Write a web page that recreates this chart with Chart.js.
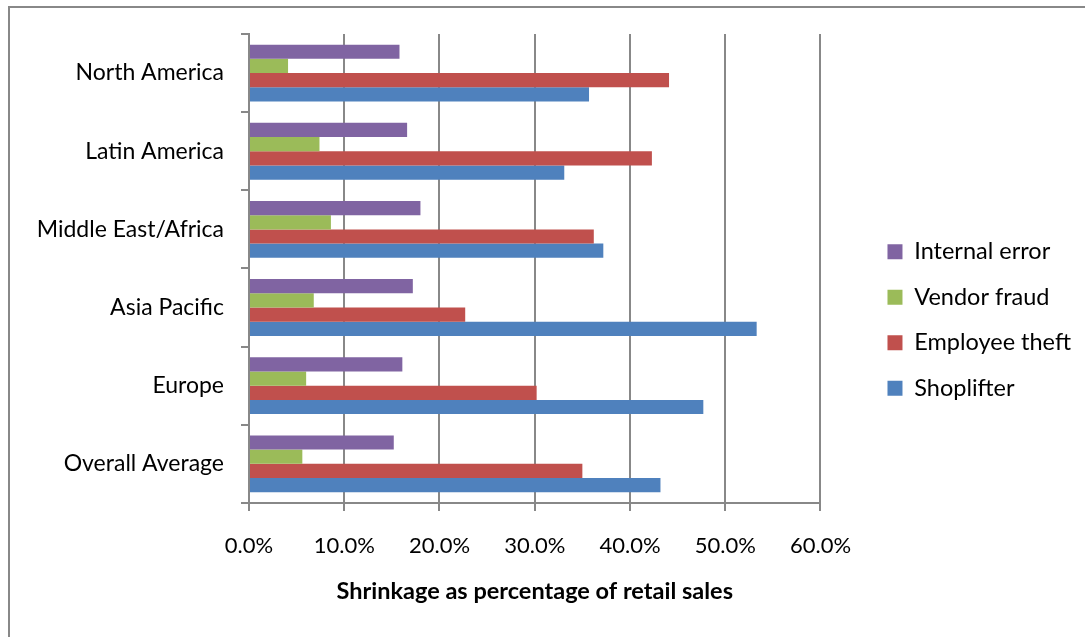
<!DOCTYPE html>
<html>
<head>
<meta charset="utf-8">
<script src="https://cdn.jsdelivr.net/npm/chart.js@4.4.1/dist/chart.umd.min.js"></script>
<style>
  html, body { margin: 0; padding: 0; background: #fff; overflow: hidden; }
  #wrap { position: relative; width: 1085px; height: 637px; }
  #frame {
    position: absolute; left: 8px; top: 6px; width: 1100px; height: 700px;
    border-left: 2px solid #888; border-top: 2px solid #888; pointer-events: none;
  }
  canvas { position: absolute; left: 0; top: 0; }
</style>
</head>
<body>
<div id="wrap">
  <canvas id="chart" width="1085" height="637"></canvas>
  <div id="frame"></div>
</div>
<script>
// Shrinkage by region, share of retail sales (%)
const regions = ['North America', 'Latin America', 'Middle East/Africa', 'Asia Pacific', 'Europe', 'Overall Average'];
const internalError = [15.8, 16.6, 18.0, 17.2, 16.1, 15.2];
const vendorFraud   = [4.1, 7.4, 8.6, 6.8, 6.0, 5.6];
const employeeTheft = [44.1, 42.3, 36.2, 22.7, 30.2, 35.0];
const shoplifter    = [35.7, 33.1, 37.2, 53.3, 47.7, 43.2];
const seriesNames   = ['Internal error', 'Vendor fraud', 'Employee theft', 'Shoplifter'];
const seriesColors  = ['#8064A2', '#9BBB59', '#C0504D', '#4F81BD'];
const axisTitle     = 'Shrinkage as percentage of retail sales';
const xMax = 60, xStep = 10;

const gridGray = '#888888';
const font = 'Lato';

const datasets = [internalError, vendorFraud, employeeTheft, shoplifter].map((vals, i) => ({
  label: seriesNames[i],
  data: vals,
  backgroundColor: seriesColors[i],
  borderWidth: 0,
  barPercentage: 1.0,
  categoryPercentage: 0.727
}));

new Chart(document.getElementById('chart'), {
  type: 'bar',
  data: { labels: regions, datasets },
  options: {
    indexAxis: 'y',
    responsive: false,
    animation: false,
    layout: { padding: { left: 37, top: 34, right: 4, bottom: 31 } },
    plugins: {
      tooltip: { enabled: false },
      legend: {
        position: 'right',
        maxWidth: 260,
        labels: {
          color: '#000',
          font: { family: font, size: 23.5 },
          boxWidth: 15,
          boxHeight: 15,
          padding: 22
        }
      }
    },
    scales: {
      x: {
        min: 0,
        max: xMax,
        ticks: {
          stepSize: xStep,
          color: '#000',
          font: { family: font, size: 22 },
          padding: 22,
          callback: v => v.toFixed(1) + '%'
        },
        grid: { color: gridGray, lineWidth: 2, tickLength: 8 },
        border: { color: gridGray, width: 2 },
        title: {
          display: true,
          text: axisTitle,
          color: '#000',
          font: { family: font, size: 23.5, weight: 'bold' },
          padding: { top: -3.5, bottom: 0 }
        }
      },
      y: {
        ticks: {
          color: '#000',
          font: { family: font, size: 23 },
          padding: 17
        },
        grid: { drawOnChartArea: false, offset: true, color: gridGray, lineWidth: 2, tickLength: 8 },
        border: { color: gridGray, width: 2 },
        afterFit: s => { s.width = 212; }
      },
      // blank spacer between the plot and the legend
      gap: {
        type: 'category',
        position: 'right',
        display: true,
        ticks: { display: false },
        grid: { display: false, drawTicks: false },
        border: { display: false },
        afterFit: s => { s.width = 45; }
      }
    }
  }
});
</script>
</body>
</html>
